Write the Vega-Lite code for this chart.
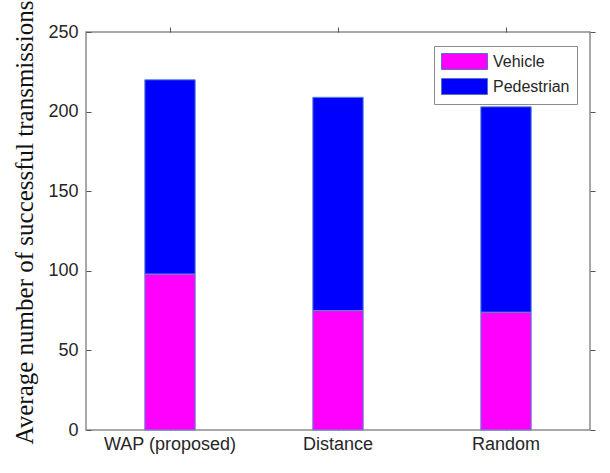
{
  "$schema": "https://vega.github.io/schema/vega-lite/v6.json",
  "autosize": "none",
  "width": 504,
  "height": 398,
  "padding": {"left": 86, "top": 32, "right": 20, "bottom": 43},
  "background": "white",
  "config": {
    "view": {"stroke": "#8c8c8c", "strokeWidth": 1.5},
    "axis": {"labelFont": "Liberation Sans", "labelFontSize": 18, "labelColor": "#262626", "domain": false, "tickColor": "#555555", "tickSize": -5, "grid": false}
  },
  "data": {"values": [
    {"method": "WAP (proposed)", "type": "Vehicle", "count": 98},
    {"method": "WAP (proposed)", "type": "Pedestrian", "count": 122},
    {"method": "Distance", "type": "Vehicle", "count": 75},
    {"method": "Distance", "type": "Pedestrian", "count": 134},
    {"method": "Random", "type": "Vehicle", "count": 74},
    {"method": "Random", "type": "Pedestrian", "count": 129}
  ]},
  "layer": [
    {
      "mark": {"type": "bar", "stroke": "#5a8fd0", "strokeWidth": 1},
      "encoding": {
        "x": {"field": "method", "type": "nominal", "sort": ["WAP (proposed)", "Distance", "Random"],
              "scale": {"paddingInner": 0.7, "paddingOuter": 0.35},
              "axis": {"orient": "bottom", "title": null, "labelAngle": 0, "labelPadding": 10}},
        "y": {"field": "count", "type": "quantitative", "stack": "zero",
              "scale": {"domain": [0, 250], "nice": false},
              "axis": {"orient": "left", "values": [0, 50, 100, 150, 200, 250], "labelPadding": 13,
                       "title": "Average number of successful transmissions",
                       "titleFont": "Liberation Serif", "titleFontSize": 25, "titleFontWeight": "normal",
                       "titleColor": "#111111", "titleX": -54, "titleY": 190, "titleBaseline": "alphabetic"}},
        "color": {"field": "type", "type": "nominal",
                  "scale": {"domain": ["Vehicle", "Pedestrian"], "range": ["#ff00ff", "#0000ff"]},
                  "legend": {"orient": "none", "legendX": 348, "legendY": 14, "title": null,
                             "padding": 7, "rowPadding": 4, "strokeColor": "#8c8c8c", "fillColor": "white",
                             "labelFont": "Liberation Sans", "labelFontSize": 16, "labelColor": "#262626",
                             "symbolType": "M-2.875,-1H2.875V1H-2.875Z", "symbolSize": 256,
                             "symbolOffset": 15, "labelOffset": 20, "symbolStrokeColor": "#5a70c0",
                             "symbolStrokeWidth": 1, "symbolOpacity": 1}},
        "order": {"field": "type", "sort": "descending"}
      }
    },
    {
      "mark": {"type": "bar", "opacity": 0},
      "encoding": {
        "x": {"field": "method", "type": "nominal", "sort": ["WAP (proposed)", "Distance", "Random"],
              "axis": {"orient": "top", "title": null, "labels": false, "tickSize": 5, "ticks": true}},
        "y": {"field": "count", "type": "quantitative", "stack": "zero",
              "axis": {"orient": "right", "title": null, "labels": false, "tickSize": 5, "ticks": true, "values": [0, 50, 100, 150, 200, 250]}}
      }
    }
  ],
  "resolve": {"axis": {"x": "independent", "y": "independent"}}
}
